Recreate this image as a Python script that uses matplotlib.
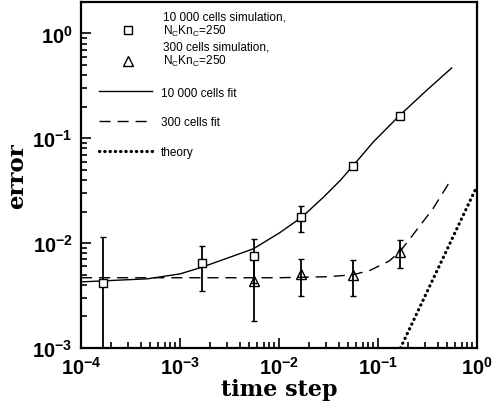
import numpy as np
import matplotlib
matplotlib.use("Agg")
from matplotlib import pyplot as plt
from matplotlib.lines import Line2D
from matplotlib.legend_handler import HandlerLine2D
from matplotlib.ticker import LogLocator

# simulation points, 10 000 cells
dt_10k = [1.67e-4, 1.67e-3, 5.56e-3, 1.67e-2, 5.56e-2, 1.67e-1]
err_10k = [4.2e-3, 6.4e-3, 7.6e-3, 1.78e-2, 5.4e-2, 0.165]
sd_10k = [7.3e-3, 2.9e-3, 3.4e-3, 5.0e-3, 1.5e-3, 4.0e-3]

# simulation points, 300 cells
dt_300 = [5.56e-3, 1.67e-2, 5.56e-2, 1.67e-1]
err_300 = [4.4e-3, 5.1e-3, 5.0e-3, 8.3e-3]
sd_300 = [2.6e-3, 1.95e-3, 1.9e-3, 2.45e-3]

# fit curves
fit_10k_x = [1e-4, 4.68e-4, 1e-3, 1.66e-3, 3.2e-3, 5.5e-3, 1.02e-2, 1.7e-2,
             2.82e-2, 4.17e-2, 5.62e-2, 8.97e-2, 0.166, 0.309, 0.555]
fit_10k_y = [4.27e-3, 4.57e-3, 5.09e-3, 5.89e-3, 7.35e-3, 8.83e-3, 1.26e-2, 1.77e-2,
             2.75e-2, 3.98e-2, 5.5e-2, 9.23e-2, 0.166, 0.286, 0.469]
fit_300_x = [1e-4, 1e-2, 3.2e-2, 5.6e-2, 8.3e-2, 0.13, 0.166, 0.21, 0.36, 0.55]
fit_300_y = [4.68e-3, 4.68e-3, 4.79e-3, 5.0e-3, 5.5e-3, 6.76e-3, 8.3e-3, 1.1e-2,
             2.14e-2, 4.07e-2]

# theory, slope 2
theory_x = [0.16, 1.0]
theory_y = [9.0e-4, 0.035]


class LowMarker(HandlerLine2D):
    # put the legend marker next to the second text line
    def create_artists(self, legend, orig_handle, xdescent, ydescent, width, height,
                       fontsize, trans):
        arts = super().create_artists(legend, orig_handle, xdescent, ydescent,
                                      width, height, fontsize, trans)
        for a in arts:
            a.set_ydata(np.asarray(a.get_ydata()) - 0.7 * height)
        return arts


plt.rcParams['mathtext.default'] = 'regular'

fig = plt.figure(figsize=(5.0, 4.14), dpi=100)
ax = fig.add_axes([0.162, 0.157, 0.792, 0.836])

ax.plot(fit_10k_x, fit_10k_y, color='black', lw=1.0)
ax.plot(fit_300_x, fit_300_y, color='black', lw=1.0, dashes=(8, 5))
ax.plot(theory_x, theory_y, color='black', lw=2.3, dashes=(0.1, 1.55),
        dash_capstyle='round')

ax.errorbar(dt_10k, err_10k, yerr=sd_10k, fmt='s', mfc='white', mec='black',
            ms=5.2, mew=1.0, ecolor='black', elinewidth=1.3, capsize=2.2, capthick=1.3,
            zorder=3)
ax.errorbar(dt_300, err_300, yerr=sd_300, fmt='^', mfc='none', mec='black',
            ms=6.5, mew=1.0, ecolor='black', elinewidth=1.3, capsize=2.2, capthick=1.3,
            zorder=3)

ax.set_xscale('log')
ax.set_yscale('log')
ax.set_xlim(1e-4, 1.0)
ax.set_ylim(1e-3, 2.0)

for s in ax.spines.values():
    s.set_linewidth(1.6)
ax.tick_params(which='both', direction='in', top=False, right=False, width=1.2)
ax.tick_params(which='major', length=7, pad=6)
ax.tick_params(which='minor', length=4)
ax.yaxis.set_minor_locator(LogLocator(base=10, subs=np.arange(2, 10), numticks=20))
ax.xaxis.set_minor_locator(LogLocator(base=10, subs=np.arange(2, 10), numticks=20))
for lab in ax.get_xticklabels() + ax.get_yticklabels():
    lab.set_fontfamily('Liberation Sans')
    lab.set_fontweight('bold')
    lab.set_fontsize(14.5)

ax.set_xlabel('time step', family='DejaVu Serif', weight='bold', fontsize=16, labelpad=0)
ax.set_ylabel('error', family='DejaVu Serif', weight='bold', fontsize=16.5, labelpad=3)

lfont = {'family': 'Liberation Sans', 'size': 8.5}
h1 = [Line2D([], [], ls='none', marker='s', mfc='white', mec='black', ms=5.5),
      Line2D([], [], ls='none', marker='^', mfc='none', mec='black', ms=6.5)]
leg1 = ax.legend(h1, ['10 000 cells simulation,\nN$_C$Kn$_C$=250',
                      '300 cells simulation,\nN$_C$Kn$_C$=250'],
                 loc='upper left', bbox_to_anchor=(0.031, 1.005), frameon=False,
                 prop=lfont, handlelength=4.0, handletextpad=1.0, labelspacing=0.25,
                 handler_map={Line2D: LowMarker()})
for t in leg1.get_texts():
    t.set_linespacing(1.0)
ax.add_artist(leg1)
h2 = [Line2D([], [], color='black', lw=1.0),
      Line2D([], [], color='black', lw=1.0, dashes=(8, 5)),
      Line2D([], [], color='black', lw=2.3, dashes=(0.1, 1.55), dash_capstyle='round')]
ax.legend(h2, ['10 000 cells fit', '300 cells fit', 'theory'],
          loc='upper left', bbox_to_anchor=(0.018, 0.786), frameon=False,
          prop=lfont, handlelength=4.5, handletextpad=0.8, labelspacing=1.5)

fig.savefig('out.png', dpi=100)
